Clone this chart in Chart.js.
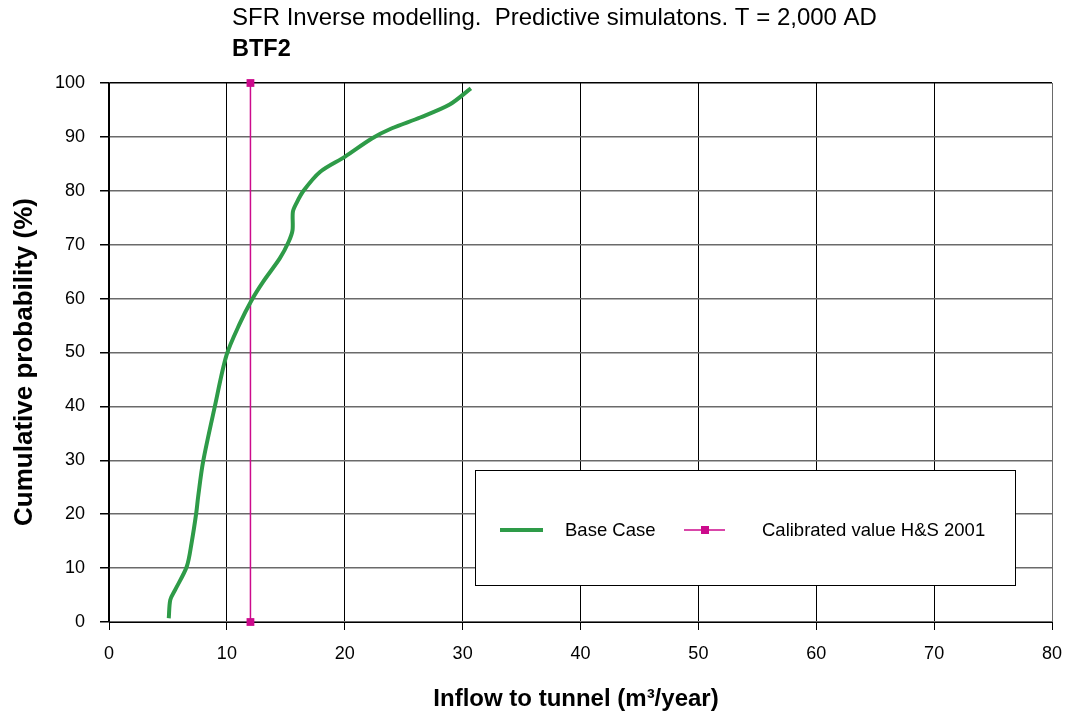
<!DOCTYPE html>
<html>
<head>
<meta charset="utf-8">
<title>SFR Inverse modelling - BTF2</title>
<script src="https://cdn.jsdelivr.net/npm/chart.js@4/dist/chart.umd.min.js"></script>
<style>
  html, body { margin: 0; padding: 0; background: #fff; }
  #wrap { width: 1067px; height: 714px; }
</style>
</head>
<body>
<div id="wrap"><canvas id="chart" width="1067" height="714"></canvas></div>
<script>
// Base case: cumulative probability of inflow to tunnel
const baseCaseInflow = [5.07, 5.2, 5.6, 6.6, 7.0, 7.4, 7.56, 7.98, 8.97, 9.97, 11.1, 12.1, 13.07, 14.5, 15.25, 15.57, 15.6, 15.9, 16.5, 17.9, 20.0, 22.3, 24.0, 26.4, 28.9, 30.7];
const baseCaseProb = [0.7, 4.1, 5.9, 10.3, 14.6, 20.2, 23.2, 29.7, 39.9, 49.5, 55.4, 59.7, 63.1, 67.5, 70.6, 72.7, 76.1, 77.7, 80.0, 83.5, 86.3, 89.7, 91.6, 93.6, 96.0, 99.0];

// Calibrated value H&S 2001 (vertical marker line)
const calibratedInflow = [12, 12];
const calibratedProb = [0, 100];

const xTicks = [0, 10, 20, 30, 40, 50, 60, 70, 80];
const yTicks = [0, 10, 20, 30, 40, 50, 60, 70, 80, 90, 100];

const titleLine = 'SFR Inverse modelling.  Predictive simulatons. T = 2,000 AD';
const subTitle = 'BTF2';
const xTitle = 'Inflow to tunnel (m\u00B3/year)';
const yTitle = 'Cumulative probability (%)';

const GREEN = '#2e9b48';
const MAGENTA = '#cc0a8c';
const FONT = '"Liberation Sans", Arial, sans-serif';

const toPoints = (xs, ys) => xs.map((x, i) => ({ x: x, y: ys[i] }));

// titles, axis titles and the boxed legend
const decorations = {
  id: 'decorations',
  afterDraw(chart) {
    const ctx = chart.ctx;
    ctx.save();
    ctx.fillStyle = '#000';
    ctx.textBaseline = 'middle';

    ctx.font = '24px ' + FONT;
    ctx.textAlign = 'left';
    ctx.fillText(titleLine, 232, 18);
    ctx.font = 'bold 23.5px ' + FONT;
    ctx.fillText(subTitle, 232, 50);

    ctx.textAlign = 'center';
    ctx.font = 'bold 24px ' + FONT;
    ctx.fillText(xTitle, 576, 699);

    ctx.translate(25, 362);
    ctx.rotate(-Math.PI / 2);
    ctx.font = 'bold 26px ' + FONT;
    ctx.fillText(yTitle, 0, 0);
    ctx.restore();

    // legend box
    ctx.save();
    const bx = 475, by = 470, bw = 540, bh = 115;
    ctx.fillStyle = '#fff';
    ctx.fillRect(bx, by, bw, bh);
    ctx.strokeStyle = '#000';
    ctx.lineWidth = 1;
    ctx.strokeRect(bx + 0.5, by + 0.5, bw, bh);

    const ly = 530;
    const base = chart.data.datasets[0];
    ctx.strokeStyle = base.borderColor;
    ctx.lineWidth = base.borderWidth;
    ctx.beginPath();
    ctx.moveTo(500, ly);
    ctx.lineTo(543, ly);
    ctx.stroke();

    const cal = chart.data.datasets[1];
    ctx.strokeStyle = cal.borderColor;
    ctx.lineWidth = cal.borderWidth;
    ctx.beginPath();
    ctx.moveTo(684, ly);
    ctx.lineTo(725, ly);
    ctx.stroke();
    ctx.fillStyle = cal.pointBackgroundColor;
    ctx.fillRect(705 - 4, ly - 4, 8, 8);

    ctx.fillStyle = '#000';
    ctx.font = '18.5px ' + FONT;
    ctx.textAlign = 'left';
    ctx.textBaseline = 'middle';
    ctx.fillText(base.label, 565, ly + 1);
    ctx.fillText(cal.label, 762, ly + 1);
    ctx.restore();
  }
};

new Chart(document.getElementById('chart').getContext('2d'), {
  type: 'scatter',
  data: {
    datasets: [{
      label: 'Base Case',
      data: toPoints(baseCaseInflow, baseCaseProb),
      showLine: true,
      borderColor: GREEN,
      borderWidth: 4,
      pointRadius: 0,
      tension: 0.3,
      fill: false
    }, {
      label: 'Calibrated value H&S 2001',
      data: toPoints(calibratedInflow, calibratedProb),
      showLine: true,
      clip: false,
      borderColor: MAGENTA,
      borderWidth: 1.5,
      pointStyle: 'rect',
      pointRadius: 5.5,
      pointBackgroundColor: MAGENTA,
      pointBorderColor: MAGENTA,
      pointBorderWidth: 0,
      fill: false
    }]
  },
  options: {
    responsive: false,
    animation: false,
    layout: { padding: { top: 83, right: 15, left: 0, bottom: 0 } },
    plugins: {
      legend: { display: false },
      tooltip: { enabled: false },
      title: { display: false }
    },
    scales: {
      x: {
        type: 'linear',
        min: 0,
        max: 80,
        afterFit: scale => {
          scale.height = 92;
          scale.paddingLeft = 0;
          scale.paddingRight = 0;
        },
        afterBuildTicks: scale => { scale.ticks = xTicks.map(v => ({ value: v })); },
        ticks: {
          color: '#000',
          font: { family: FONT, size: 18 },
          padding: 13,
          maxRotation: 0
        },
        grid: {
          color: ctx => (ctx.tick && ctx.tick.value === 80) ? '#6a6a6a' : '#000',
          lineWidth: 1,
          tickColor: '#000',
          tickLength: 8
        },
        border: { display: true, color: '#000', width: 1 }
      },
      y: {
        type: 'linear',
        min: 0,
        max: 100,
        afterFit: scale => {
          scale.width = 109;
          scale.paddingTop = 0;
          scale.paddingBottom = 0;
        },
        afterBuildTicks: scale => { scale.ticks = yTicks.map(v => ({ value: v })); },
        ticks: {
          color: '#000',
          font: { family: FONT, size: 18 },
          padding: 15
        },
        grid: {
          color: ctx => (ctx.tick && ctx.tick.value === 100) ? '#000' : '#6a6a6a',
          lineWidth: 1.5,
          tickColor: '#000',
          tickLength: 9
        },
        border: { display: true, color: '#000', width: 1.5 }
      }
    }
  },
  plugins: [decorations]
});
</script>
</body>
</html>
